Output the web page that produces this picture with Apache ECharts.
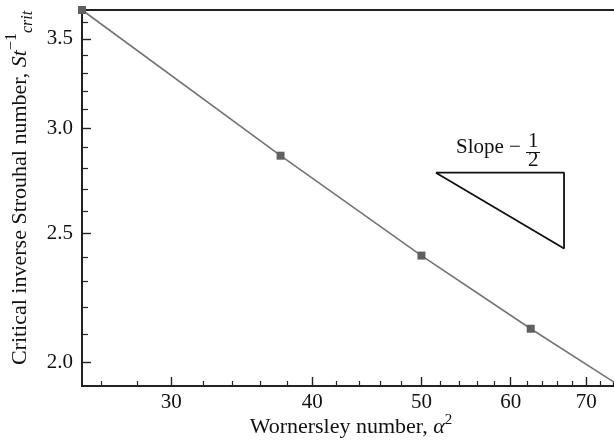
<!DOCTYPE html>
<html>
<head>
<meta charset="utf-8">
<script src="https://cdn.jsdelivr.net/npm/echarts@6/dist/echarts.min.js"></script>
<style>
  html, body { margin: 0; padding: 0; background: #fff; }
  #chart { width: 614px; height: 446px; }
</style>
</head>
<body>
<div id="chart"></div>
<script>
// Critical inverse Strouhal number against Womersley number (log-log)
const womersley = [25, 37.5, 50, 62.5, 75];
const strouhalInv = [3.68, 2.86, 2.406, 2.12, 1.92];

const xRange = [25, 75];
const yRange = [1.92, 3.68];
const xMajorTicks = [30, 40, 50, 60, 70];
const xMinorTicks = [26, 28, 32, 34, 36, 38, 42, 44, 46, 48, 52, 54, 56, 58, 62, 64, 66, 68, 72, 74];
const yMajorTicks = [2.0, 2.5, 3.0, 3.5];
const yMinorTicks = [2.1, 2.2, 2.3, 2.4, 2.6, 2.7, 2.8, 2.9, 3.1, 3.2, 3.3, 3.4, 3.6];

// reference slope triangle (slope -1/2)
const slopeTriX = [51.5, 66.9, 66.9, 51.5];
const slopeTriY = [2.777, 2.777, 2.436, 2.777];

const FONT = '"Liberation Serif", "Times New Roman", serif';
const INK = '#111';

const chart = echarts.init(document.getElementById('chart'), null, { renderer: 'canvas' });

const gridBox = { left: 82, top: 10, right: -6, bottom: 60, outerBoundsMode: 'none', containLabel: false };

function minorAxis(range, ticks, len) {
  return {
    type: 'log', logBase: 10, gridIndex: 1, min: range[0], max: range[1],
    axisLine: { show: false },
    axisLabel: { show: false },
    splitLine: { show: false },
    axisTick: { show: true, inside: true, length: len, customValues: ticks,
                lineStyle: { color: '#222', width: 1.2 } }
  };
}

const option = {
  animation: false,
  backgroundColor: '#fff',
  grid: [
    Object.assign({ show: true, borderColor: '#222', borderWidth: 2, backgroundColor: 'transparent' }, gridBox),
    Object.assign({}, gridBox)
  ],
  xAxis: [
    {
      type: 'log', logBase: 10, gridIndex: 0, min: xRange[0], max: xRange[1],
      axisLine: { show: true, lineStyle: { color: '#222', width: 2 } },
      axisTick: { show: true, inside: true, length: 9, customValues: xMajorTicks,
                  lineStyle: { color: '#222', width: 1.4 } },
      axisLabel: { show: true, customValues: xMajorTicks, margin: 6,
                   fontFamily: FONT, fontSize: 21, color: INK,
                   formatter: v => String(Math.round(v)) },
      splitLine: { show: false },
      name: '{t|Wornersley number, }{a|α}{s|2}',
      nameLocation: 'middle',
      nameGap: 27,
      nameMoveOverlap: false,
      nameTextStyle: {
        fontFamily: FONT, fontSize: 22, color: INK,
        rich: {
          t: { fontFamily: FONT, fontSize: 22, color: INK, lineHeight: 28 },
          a: { fontFamily: FONT, fontSize: 22, color: INK, fontStyle: 'italic', lineHeight: 28 },
          s: { fontFamily: FONT, fontSize: 15, color: INK, lineHeight: 16, verticalAlign: 'top' }
        }
      }
    },
    minorAxis(xRange, xMinorTicks, 5)
  ],
  yAxis: [
    {
      type: 'log', logBase: 10, gridIndex: 0, min: yRange[0], max: yRange[1],
      axisLine: { show: true, lineStyle: { color: '#222', width: 2 } },
      axisTick: { show: true, inside: true, length: 9, customValues: yMajorTicks,
                  lineStyle: { color: '#222', width: 1.4 } },
      axisLabel: { show: true, customValues: yMajorTicks, margin: 9,
                   fontFamily: FONT, fontSize: 21, color: INK,
                   formatter: v => Number(v).toFixed(1) },
      splitLine: { show: false },
      name: '{t|Critical inverse Strouhal number, }{i|St}{sup|−1}{sub|crit}',
      nameLocation: 'middle',
      nameRotate: 90,
      nameGap: 46,
      nameMoveOverlap: false,
      nameTextStyle: {
        fontFamily: FONT, fontSize: 22, color: INK,
        padding: [0, 0, 0, 20],
        rich: {
          t: { fontFamily: FONT, fontSize: 22, color: INK, lineHeight: 32 },
          i: { fontFamily: FONT, fontSize: 22, color: INK, fontStyle: 'italic', lineHeight: 32 },
          sup: { fontFamily: FONT, fontSize: 16, color: INK, lineHeight: 17, verticalAlign: 'top' },
          sub: { fontFamily: FONT, fontSize: 16, color: INK, fontStyle: 'italic', lineHeight: 15, verticalAlign: 'bottom' }
        }
      }
    },
    minorAxis(yRange, yMinorTicks, 6)
  ],
  series: [
    {
      type: 'line',
      xAxisIndex: 0, yAxisIndex: 0,
      data: womersley.map((x, i) => [x, strouhalInv[i]]),
      clip: false,
      symbol: 'rect',
      symbolSize: 8,
      itemStyle: { color: '#606060' },
      lineStyle: { color: '#737373', width: 1.6 },
      z: 3
    },
    {
      type: 'line',
      xAxisIndex: 0, yAxisIndex: 0,
      data: slopeTriX.map((x, i) => [x, slopeTriY[i]]),
      clip: false,
      symbol: 'none',
      lineStyle: { color: INK, width: 1.8 },
      z: 3
    }
  ],
  graphic: [
    { type: 'text', left: 456, top: 137,
      style: { text: 'Slope −', fontFamily: FONT, fontSize: 21, fill: INK } },
    { type: 'text', left: 528, top: 131,
      style: { text: '1', fontFamily: FONT, fontSize: 21, fill: INK } },
    { type: 'text', left: 528, top: 150,
      style: { text: '2', fontFamily: FONT, fontSize: 21, fill: INK } },
    { type: 'line', shape: { x1: 526, y1: 152.5, x2: 540, y2: 152.5 },
      style: { stroke: INK, lineWidth: 1 } }
  ]
};

chart.setOption(option);
</script>
</body>
</html>
